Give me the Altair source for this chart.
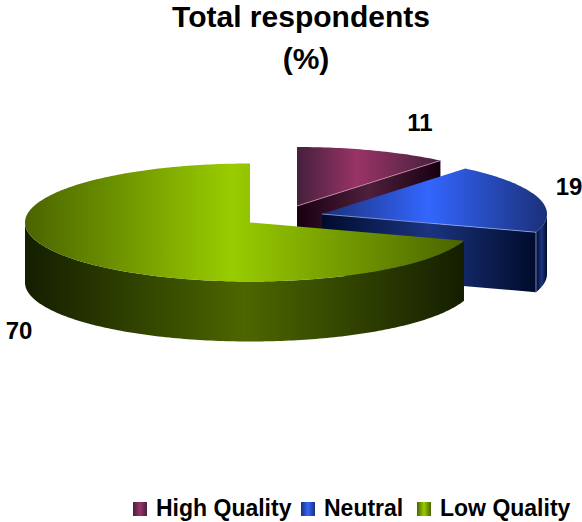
import numpy as np
import pandas as pd
import altair as alt

# Survey shares
categories = ["High Quality", "Neutral", "Low Quality"]
values = [11, 19, 70]

# Slice colours: rim shade, full tone and cut/outer wall tones
top_edge = ["#45203d", "#1b3079", "#4a6400"]
top_mid = ["#993366", "#3366ff", "#99cc00"]
top_mid_at = [0.42, 0.47, 0.47]
wall_edge = ["#170010", "#000b2b", "#141e00"]
wall_mid = ["#4f1f3c", "#1a3480", "#4d6600"]
edge_lines = ["#c890b0", "#8fa6e8", None]

# Pie geometry in canvas pixels
rim_x, rim_y = 225.0, 59.0
depth = 60.0
centres = [(297.0, 206.0), (322.0, 214.0), (250.0, 222.5)]

# Text placement
label_xy = [(420, 124), (569, 188), (19, 332)]
swatch_x = [140, 308, 424]
legend_text_x = [156, 324, 440]
legend_y = 509
title_lines = [("Total respondents", 301, 18), ("(%)", 306, 60)]

W, H = 582, 522
X = alt.X("x:Q", scale=alt.Scale(domain=[0, W], range=[0, W]), axis=None)
Y = alt.Y("y:Q", scale=alt.Scale(domain=[0, H], range=[0, H]), axis=None)


def gradient(edge, mid, at):
    return alt.Gradient(
        gradient="linear", x1=0, x2=1, y1=0, y2=0,
        stops=[
            alt.GradientStop(offset=0, color=edge),
            alt.GradientStop(offset=at, color=mid),
            alt.GradientStop(offset=1, color=edge),
        ],
    )


def rim(cx, cy, start, end, drop=0.0):
    a = np.radians(np.linspace(start, end, max(2, int(abs(end - start)) + 1)))
    return list(zip(cx + rim_x * np.sin(a), cy - rim_y * np.cos(a) + drop))


def polygon(points, fill):
    frame = pd.DataFrame(points, columns=["x", "y"]).assign(i=lambda d: range(len(d)))
    return alt.Chart(frame).mark_line(fill=fill, stroke=None, strokeWidth=0).encode(
        x=X, y=Y, order="i:Q"
    )


def edge(points, color):
    frame = pd.DataFrame(points, columns=["x", "y"]).assign(i=lambda d: range(len(d)))
    return alt.Chart(frame).mark_line(color=color, strokeWidth=0.8).encode(
        x=X, y=Y, order="i:Q"
    )


layers = []
bounds = np.cumsum([0] + values) * 3.6
for k, (cx, cy) in enumerate(centres):
    start, end = bounds[k], bounds[k + 1]
    top_fill = gradient(top_edge[k], top_mid[k], top_mid_at[k])
    wall_fill = gradient(wall_edge[k], wall_mid[k], 0.5)

    # Cut face between the centre and the clockwise end radius
    if k < 2:
        p = rim(cx, cy, end, end)[0]
        layers.append(polygon([(cx, cy), p, (p[0], p[1] + depth), (cx, cy + depth)], wall_fill))

    # Outer wall on the side that faces the viewer
    lo, hi = max(start, 90.0), min(end, 270.0)
    if hi > lo:
        layers.append(polygon(rim(cx, cy, lo, hi) + rim(cx, cy, hi, lo, depth), wall_fill))

    # Top face
    layers.append(polygon([(cx, cy)] + rim(cx, cy, start, end), top_fill))

    if edge_lines[k]:
        p = rim(cx, cy, end, end)[0]
        layers.append(edge([(cx, cy), p], edge_lines[k]))
        if k == 1:
            layers.append(edge([p, (p[0], p[1] + depth)], edge_lines[k]))

    # Value label
    layers.append(
        alt.Chart(pd.DataFrame({"x": [label_xy[k][0]], "y": [label_xy[k][1]], "t": [str(values[k])]}))
        .mark_text(font="Liberation Sans", fontWeight="bold", fontSize=24, color="black")
        .encode(x=X, y=Y, text="t:N")
    )

    # Legend entry
    layers.append(
        alt.Chart(pd.DataFrame({"x": [swatch_x[k]], "y": [legend_y]}))
        .mark_point(shape="square", size=196, filled=True, opacity=1,
                    fill=gradient(top_edge[k], top_mid[k], 0.5), strokeWidth=0)
        .encode(x=X, y=Y)
    )
    layers.append(
        alt.Chart(pd.DataFrame({"x": [legend_text_x[k]], "y": [legend_y], "t": [categories[k]]}))
        .mark_text(font="Liberation Sans", fontWeight="bold", fontSize=23, color="black", align="left")
        .encode(x=X, y=Y, text="t:N")
    )

for text, tx, ty in title_lines:
    layers.append(
        alt.Chart(pd.DataFrame({"x": [tx], "y": [ty], "t": [text]}))
        .mark_text(font="Liberation Sans", fontWeight="bold", fontSize=30, color="black")
        .encode(x=X, y=Y, text="t:N")
    )

chart = (
    alt.layer(*layers)
    .properties(width=W, height=H, padding=0, autosize=alt.AutoSizeParams(type="none"))
    .configure_view(stroke=None)
)

chart.save("out.html", embed_options={"renderer": "svg", "actions": False})
